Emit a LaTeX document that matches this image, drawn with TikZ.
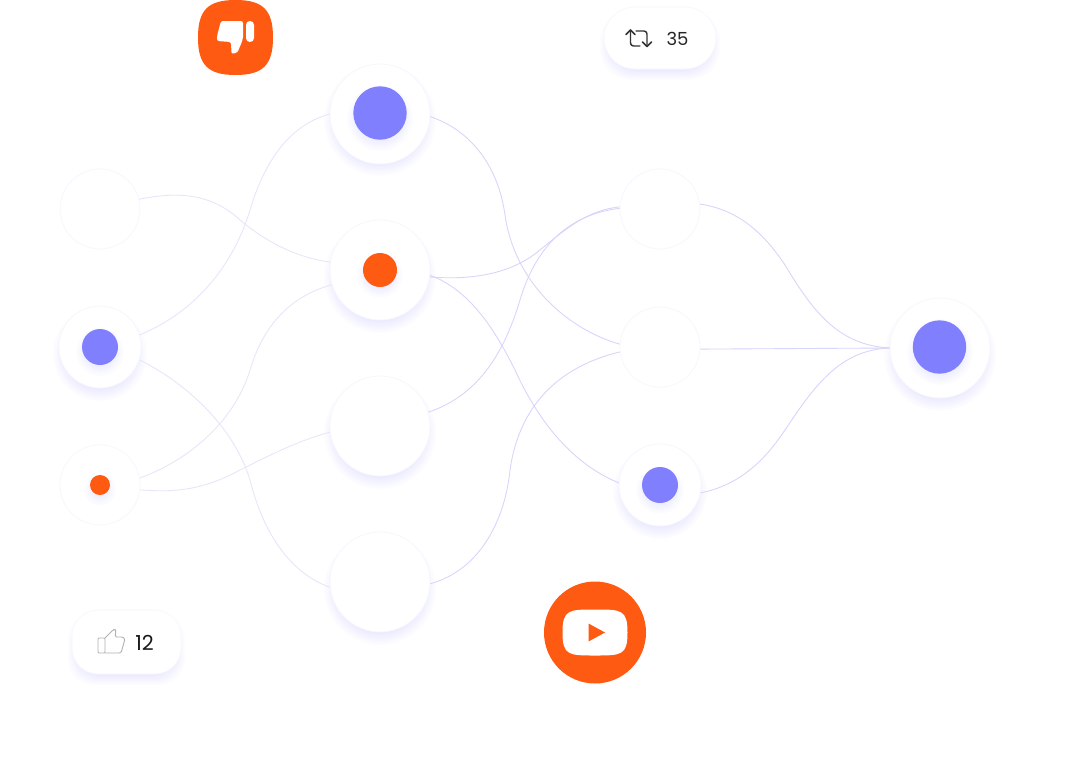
\documentclass[tikz,border=0pt]{standalone}
\usepackage{fontspec}
\setmainfont{Poppins}
\definecolor{accent}{HTML}{FF5A12}
\definecolor{violet}{HTML}{8080FF}
\definecolor{edgecol}{HTML}{D6D5FC}
\definecolor{edgefaint}{HTML}{E6E6FB}
\definecolor{rimcol}{HTML}{F6F6FD}
\newcommand{\softdisc}[4]{% x y r offset
  \foreach \k in {0,...,11}{
    \fill[violet,opacity=0.017] (#1,#2+#4) circle[radius={#3+6-\k*1.3}];
  }}
\newcommand{\softbox}[5]{% x0 y0 x1 y1 r
  \foreach \k in {0,...,9}{
    \pgfmathsetmacro{\gr}{4-\k*1.0}
    \fill[violet,opacity=0.013,rounded corners=#5*0.75pt]
      ({#1-\gr},{#2+7-\gr}) rectangle ({#3+\gr},{#4+7+\gr});
  }}
\tikzset{
  x=0.75pt,y=-0.75pt,
  unit/.style={circle,fill=white,draw=rimcol,line width=0.5pt,inner sep=0pt,minimum size=#1*1.5pt},
  dotblue/.style={circle,fill=violet,inner sep=0pt,minimum size=#1*1.5pt},
  dotorange/.style={circle,fill=accent,inner sep=0pt,minimum size=#1*1.5pt},
  link/.style={edgecol,line width=0.65pt},
  linkfaint/.style={edgefaint,line width=0.65pt},
  count/.style={font=\fontsize{13.5pt}{15pt}\selectfont,text=black!85,inner sep=0pt},
  countbig/.style={font=\fontsize{15.5pt}{17pt}\selectfont,text=black!90,inner sep=0pt},
  iconline/.style={black!80,line width=1.1pt,line cap=round,line join=round},
  thumbline/.style={black!30,line width=0.7pt,line join=round},
}
\begin{document}
\begin{tikzpicture}
\useasboundingbox (0,0) rectangle (1070,768);
\fill[white] (0,0) rectangle (1070,768);
% shadows
\softdisc{100}{347}{41}{7}
\softdisc{380}{113}{50}{7}
\softdisc{380}{270}{50}{7}
\softdisc{380}{426}{50}{7}
\softdisc{380}{582}{50}{7}
\softdisc{660}{485}{41}{7}
\softdisc{940}{348}{50}{7}
\softbox{604}{7}{716}{69}{31}
\softbox{72}{610}{181}{674}{26}
% units
\node[unit=40] (i1) at (100,209) {};
\node[unit=41] (i2) at (100,347) {};
\node[unit=40] (i3) at (100,485) {};
\node[unit=50] (h1) at (380,114) {};
\node[unit=50] (h2) at (380,270) {};
\node[unit=50] (h3) at (380,426) {};
\node[unit=50] (h4) at (380,582) {};
\node[unit=40] (j1) at (660,209) {};
\node[unit=40] (j2) at (660,347) {};
\node[unit=41] (j3) at (660,485) {};
\node[unit=50] (o)  at (940,348) {};
% connectors
\draw[linkfaint] (i1.14) .. controls (175,192) and (210,192) .. (240,220) .. controls (270,245) and (300,258) .. (h2.171);
\draw[linkfaint] (i2.17) .. controls (200,310) and (235,260) .. (250,210) .. controls (265,160) and (290,125) .. (h1.180);
\draw[linkfaint] (i2.-18) .. controls (190,385) and (235,430) .. (250,480) .. controls (265,540) and (295,575) .. (h4.186);
\draw[linkfaint] (i3.10) .. controls (190,460) and (235,420) .. (250,370) .. controls (265,320) and (295,295) .. (h2.197);
\draw[linkfaint] (i3.-7) .. controls (170,492) and (200,492) .. (240,470) .. controls (270,455) and (300,440) .. (h3.187);
\draw[link] (h1.-3) .. controls (470,130) and (498,165) .. (505,215) .. controls (515,285) and (570,330) .. (j2.176);
\draw[link] (h2.-8) .. controls (470,280) and (510,275) .. (540,250) .. controls (570,225) and (590,210) .. (j1.177);
\draw[link] (h2.-6) .. controls (470,290) and (495,330) .. (515,370) .. controls (540,425) and (575,465) .. (j3.177);
\draw[link] (h3.16) .. controls (480,395) and (505,350) .. (520,300) .. controls (535,250) and (565,215) .. (j1.179);
\draw[link] (h4.-2) .. controls (480,570) and (505,520) .. (510,470) .. controls (520,400) and (565,365) .. (j2.187);
\draw[link] (j1.7) .. controls (740,210) and (765,235) .. (785,265) .. controls (815,315) and (840,345) .. (o.180);
\draw[link] (j2.-3) -- (o.180);
\draw[link] (j3.-11) .. controls (740,485) and (765,460) .. (785,430) .. controls (815,385) and (840,350) .. (o.180);
% inner dots
\softdisc{100}{347}{18}{5}
\softdisc{100}{485}{10}{5}
\softdisc{380}{113}{27}{5}
\softdisc{380}{270}{17}{5}
\softdisc{660}{485}{18}{5}
\softdisc{940}{347}{27}{5}
\node[dotblue=18] (di2) at (100,347) {};
\node[dotorange=10] (di3) at (100,485) {};
\node[dotblue=26.7] (dh1) at (380,113) {};
\node[dotorange=17] (dh2) at (380,270) {};
\node[dotblue=18] (dj3) at (660,485) {};
\node[dotblue=26.7] (do) at (939.5,347) {};
% thumbs-down badge (squircle)
\fill[accent] (235.5,0) .. controls (263,0) and (273,10) .. (273,37.5) .. controls (273,65) and (263,75) .. (235.5,75) .. controls (208,75) and (198,65) .. (198,37.5) .. controls (198,10) and (208,0) .. (235.5,0) -- cycle;
\fill[white,rounded corners=2.9pt] (246,21) rectangle (254,42);
\fill[white,rounded corners=1.6pt] (221,21) -- (243,21) -- (243,39) -- (237.5,52.5) -- (231.5,54) -- (231,42) -- (217,41) -- (217,36) -- cycle;
% retweet pill
\fill[white,draw=rimcol,line width=0.4pt,rounded corners=23.25pt] (604,7) rectangle (716,69);
\draw[iconline,rounded corners=2.25pt] (630.5,30) -- (630.5,46) -- (640,46);
\draw[iconline] (626,34.5) -- (630.5,30) -- (635,34.5);
\draw[iconline,rounded corners=2.25pt] (636,31) -- (647,31) -- (647,46.5);
\draw[iconline] (642.5,42) -- (647,46.5) -- (651.5,42);
\node[count] (n35) at (677.5,38.5) {35};
% like pill
\fill[white,draw=rimcol,line width=0.4pt,rounded corners=19.5pt] (72,610) rectangle (181,674);
\draw[thumbline,rounded corners=0.75pt] (98,638) rectangle (105,653);
\draw[thumbline,rounded corners=1.1pt] (105,638) -- (113,630) -- (115,629) -- (116,631) -- (115,637) -- (123,637) -- (125,639) -- (121,653) -- (105,653);
\node[countbig] (n12) at (144.5,642.5) {12};
% video badge
\fill[accent] (595,632.5) circle[radius=51];
\fill[white] (595,609.5) .. controls (621,609.5) and (627.5,609.5) .. (627.5,632.5) .. controls (627.5,655.5) and (621,655.5) .. (595,655.5) .. controls (569,655.5) and (562.5,655.5) .. (562.5,632.5) .. controls (562.5,609.5) and (569,609.5) .. (595,609.5) -- cycle;
\fill[accent] (588.5,623.5) -- (605,632.5) -- (588.5,641.5) -- cycle;
\end{tikzpicture}
\end{document}
